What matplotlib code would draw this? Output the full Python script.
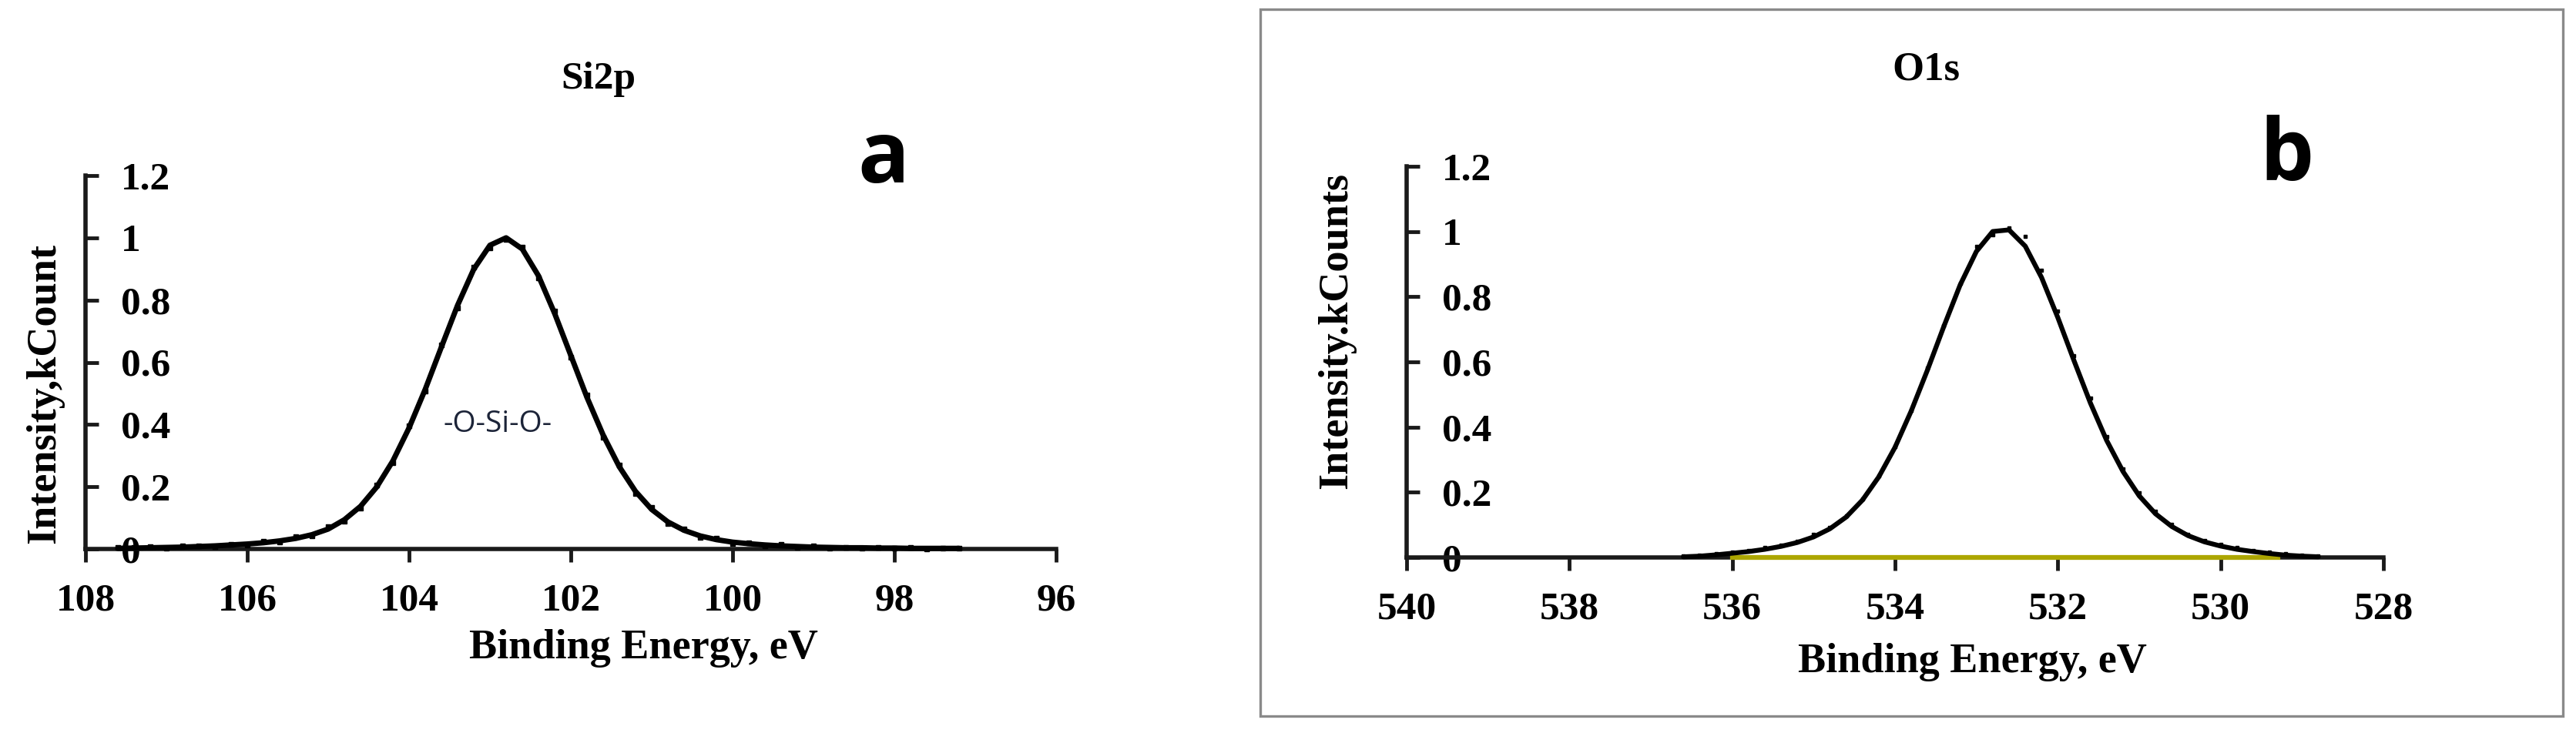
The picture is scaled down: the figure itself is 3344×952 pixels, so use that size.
import numpy as np
import matplotlib
matplotlib.use('Agg')
import matplotlib.pyplot as plt
from matplotlib.patches import Rectangle

# ---------------- data ----------------
# Panel a: Si2p
energy_a = [107.6, 107.4, 107.2, 107.0, 106.8, 106.6, 106.4, 106.2, 106.0, 105.8, 105.6, 105.4,
            105.2, 105.0, 104.8, 104.6, 104.4, 104.2, 104.0, 103.8, 103.6, 103.4, 103.2, 103.0,
            102.8, 102.6, 102.4, 102.2, 102.0, 101.8, 101.6, 101.4, 101.2, 101.0, 100.8, 100.6,
            100.4, 100.2, 100.0, 99.8, 99.6, 99.4, 99.2, 99.0, 98.8, 98.6, 98.4, 98.2,
            98.0, 97.8, 97.6, 97.4, 97.2]
fit_a = [0.002, 0.003, 0.004, 0.005, 0.006, 0.008, 0.010, 0.013, 0.016, 0.020, 0.026, 0.034,
         0.046, 0.064, 0.094, 0.137, 0.199, 0.283, 0.389, 0.513, 0.649, 0.783, 0.899, 0.976,
         1.000, 0.964, 0.878, 0.757, 0.622, 0.487, 0.366, 0.264, 0.185, 0.127, 0.087, 0.060,
         0.042, 0.030, 0.022, 0.017, 0.013, 0.010, 0.008, 0.006, 0.005, 0.004, 0.004, 0.003,
         0.003, 0.002, 0.002, 0.002, 0.002]
meas_a = [0.006, 0.004, 0.008, 0.003, 0.009, 0.011, 0.007, 0.016, 0.012, 0.024, 0.022, 0.040,
          0.043, 0.071, 0.090, 0.132, 0.205, 0.278, 0.395, 0.506, 0.655, 0.775, 0.905, 0.968,
          0.995, 0.970, 0.871, 0.765, 0.615, 0.495, 0.359, 0.270, 0.179, 0.133, 0.082, 0.064,
          0.038, 0.034, 0.018, 0.020, 0.010, 0.014, 0.006, 0.011, 0.003, 0.006, 0.002, 0.005,
          0.003, 0.004, 0.001, 0.003, 0.002]

# Panel b: O1s
energy_b = [536.6, 536.4, 536.2, 536.0, 535.8, 535.6, 535.4, 535.2, 535.0, 534.8,
            534.6, 534.4, 534.2, 534.0, 533.8, 533.6, 533.4, 533.2, 533.0, 532.8,
            532.6, 532.4, 532.2, 532.0, 531.8, 531.6, 531.4, 531.2, 531.0, 530.8,
            530.6, 530.4, 530.2, 530.0, 529.8, 529.6, 529.4, 529.2, 529.0, 528.8]
fit_b = [0.002, 0.004, 0.008, 0.013, 0.018, 0.025, 0.034, 0.046, 0.063, 0.088,
         0.124, 0.176, 0.247, 0.338, 0.450, 0.576, 0.709, 0.836, 0.939, 1.000,
         1.005, 0.955, 0.859, 0.736, 0.603, 0.474, 0.359, 0.264, 0.189, 0.134,
         0.095, 0.067, 0.048, 0.035, 0.025, 0.018, 0.012, 0.007, 0.004, 0.002]
meas_b = [0.004, 0.007, 0.012, 0.016, 0.021, 0.030, 0.038, 0.049, 0.070, 0.092,
          0.128, 0.180, 0.250, 0.341, 0.452, 0.580, 0.712, 0.840, 0.955, 0.990,
          1.012, 0.985, 0.880, 0.755, 0.620, 0.490, 0.372, 0.272, 0.198, 0.142,
          0.101, 0.072, 0.052, 0.040, 0.030, 0.022, 0.017, 0.012, 0.008, 0.005]
background_energy_b = [536.0, 529.3]
background_b = [0.0, 0.0]

xticks_a = [108, 106, 104, 102, 100, 98, 96]
xticks_b = [540, 538, 536, 534, 532, 530, 528]
yticks = [0, 0.2, 0.4, 0.6, 0.8, 1.0, 1.2]
ytick_labels = ['0', '0.2', '0.4', '0.6', '0.8', '1', '1.2']

# ---------------- figure ----------------
W, H, DPI = 3344, 952, 100
plt.rcParams['font.family'] = ['Liberation Serif', 'DejaVu Serif']
plt.rcParams['font.weight'] = 'bold'
fig = plt.figure(figsize=(W / DPI, H / DPI), dpi=DPI)
fig.patch.set_facecolor('white')


def px_axes(x0, x1, y_top, y_bot):
    return fig.add_axes([x0 / W, 1 - y_bot / H, (x1 - x0) / W, (y_bot - y_top) / H])


axA = px_axes(111, 1371, 228, 713)
axB = px_axes(1826, 3094, 216, 724)

AX_COL = '#1a1a1a'


def style(ax, xlim, xticks):
    ax.set_xlim(xlim)
    ax.set_ylim(0, 1.2)
    ax.patch.set_alpha(0)
    for s in ['top', 'right']:
        ax.spines[s].set_visible(False)
    for s in ['left', 'bottom']:
        ax.spines[s].set_linewidth(4)
        ax.spines[s].set_color(AX_COL)
    ax.set_xticks(xticks)
    ax.set_xticklabels([str(t) for t in xticks])
    ax.set_yticks(yticks)
    ax.set_yticklabels(ytick_labels)
    ax.tick_params(axis='x', direction='out', length=12, width=3.5, pad=20,
                   labelsize=37, color=AX_COL)
    ax.tick_params(axis='y', direction='in', length=12, width=3.5, pad=-33,
                   labelsize=37, color=AX_COL)
    plt.setp(ax.get_yticklabels(), ha='left')


style(axA, (108, 96), xticks_a)
style(axB, (540, 528), xticks_b)

# Panel a curves
axA.plot(energy_a, meas_a, ls='none', marker='s', ms=5, color='k', clip_on=False, zorder=3)
axA.plot(energy_a, fit_a, color='k', lw=5, clip_on=False, zorder=4, solid_capstyle='round')
axA.text(102.9, 0.40, '-O-Si-O-', ha='center', va='center', fontsize=28,
         family=['Open Sans', 'DejaVu Sans'], fontweight='normal', color='#1c2438')

# Panel b curves
axB.plot(background_energy_b, background_b, color='#aca600', lw=4.5, clip_on=False, zorder=3)
axB.plot(energy_b, meas_b, ls='none', marker='s', ms=3.5, color='k', clip_on=False, zorder=4)
axB.plot(energy_b, fit_b, color='k', lw=4.5, clip_on=False, zorder=5, solid_capstyle='round')

# axis labels
axA.set_xlabel('Binding Energy, eV', fontsize=39, fontweight='bold')
axA.xaxis.set_label_coords(0.575, -0.214)
axA.set_ylabel('Intensity,kCount', fontsize=39, fontweight='bold', va='center')
axA.yaxis.set_label_coords(-0.042, 0.4165)

axB.set_xlabel('Binding Energy, eV', fontsize=39, fontweight='bold')
axB.xaxis.set_label_coords(0.579, -0.2185)
axB.set_ylabel('Intensity.kCounts', fontsize=39, fontweight='bold', va='center')
axB.yaxis.set_label_coords(-0.0718, 0.5807)

# titles and panel letters
fig.text(777 / W, 1 - 103 / H, 'Si2p', ha='center', va='center', fontsize=37, fontweight='bold')
fig.text(2500 / W, 1 - 91 / H, 'O1s', ha='center', va='center', fontsize=38, fontweight='bold')
fig.text(1147 / W, 1 - 237 / H, 'a', ha='center', va='baseline', fontsize=80,
         family=['Open Sans', 'DejaVu Sans'], fontweight='bold')
fig.text(2968 / W, 1 - 234 / H, 'b', ha='center', va='baseline', fontsize=80,
         family=['Open Sans', 'DejaVu Sans'], fontweight='bold')

# frame around panel b
fig.patches.append(Rectangle((1636 / W, 1 - 930 / H), (3327 - 1636) / W, (930 - 12) / H,
                             transform=fig.transFigure, fill=False,
                             edgecolor='#8a8a8a', lw=2.4))

fig.savefig('out.png', dpi=DPI, facecolor='white')
